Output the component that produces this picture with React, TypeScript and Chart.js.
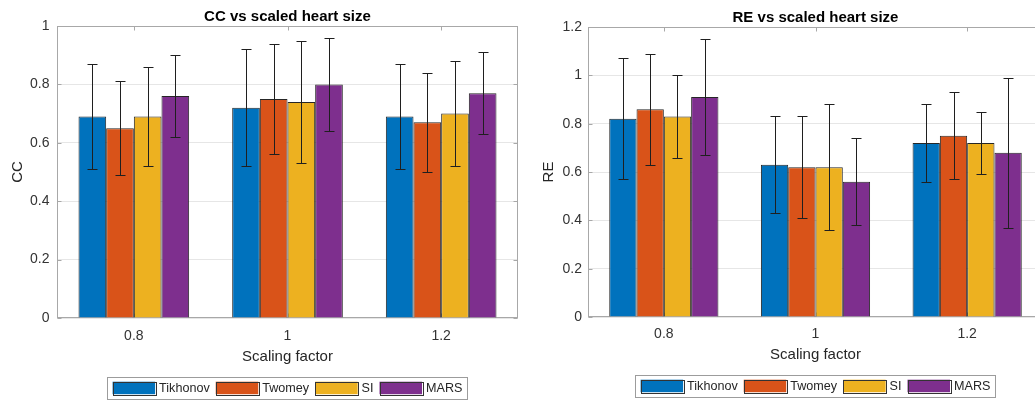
import React, { useEffect, useRef } from "react";
import { Chart, registerables } from "chart.js";

Chart.register(...registerables);

const FONT = "'Liberation Sans', Arial, Helvetica, sans-serif";

const categories = ["0.8", "1", "1.2"];
const methods = ["Tikhonov", "Twomey", "SI", "MARS"];
const methodColors = ["#0072BD", "#D95319", "#EDB120", "#7E2F8E"];

// CC panel: bar heights
const ccTikhonov = [0.69, 0.72, 0.69];
const ccTwomey = [0.65, 0.75, 0.67];
const ccSI = [0.69, 0.74, 0.7];
const ccMARS = [0.76, 0.8, 0.77];
// CC panel: error bar ends
const ccTikhonovLow = [0.51, 0.52, 0.51];
const ccTikhonovHigh = [0.87, 0.92, 0.87];
const ccTwomeyLow = [0.49, 0.56, 0.5];
const ccTwomeyHigh = [0.81, 0.94, 0.84];
const ccSILow = [0.52, 0.53, 0.52];
const ccSIHigh = [0.86, 0.95, 0.88];
const ccMARSLow = [0.62, 0.64, 0.63];
const ccMARSHigh = [0.9, 0.96, 0.91];
const ccTicks = [0, 0.2, 0.4, 0.6, 0.8, 1];

// RE panel: bar heights
const reTikhonov = [0.82, 0.63, 0.72];
const reTwomey = [0.86, 0.62, 0.75];
const reSI = [0.83, 0.62, 0.72];
const reMARS = [0.91, 0.56, 0.68];
// RE panel: error bar ends
const reTikhonovLow = [0.57, 0.43, 0.56];
const reTikhonovHigh = [1.07, 0.83, 0.88];
const reTwomeyLow = [0.63, 0.41, 0.57];
const reTwomeyHigh = [1.09, 0.83, 0.93];
const reSILow = [0.66, 0.36, 0.59];
const reSIHigh = [1.0, 0.88, 0.85];
const reMARSLow = [0.67, 0.38, 0.37];
const reMARSHigh = [1.15, 0.74, 0.99];
const reTicks = [0, 0.2, 0.4, 0.6, 0.8, 1, 1.2];

const ccMeans = [ccTikhonov, ccTwomey, ccSI, ccMARS];
const ccLows = [ccTikhonovLow, ccTwomeyLow, ccSILow, ccMARSLow];
const ccHighs = [ccTikhonovHigh, ccTwomeyHigh, ccSIHigh, ccMARSHigh];
const reMeans = [reTikhonov, reTwomey, reSI, reMARS];
const reLows = [reTikhonovLow, reTwomeyLow, reSILow, reMARSLow];
const reHighs = [reTikhonovHigh, reTwomeyHigh, reSIHigh, reMARSHigh];

function line(ctx: CanvasRenderingContext2D, x1: number, y1: number, x2: number, y2: number) {
  ctx.beginPath();
  ctx.moveTo(x1, y1);
  ctx.lineTo(x2, y2);
  ctx.stroke();
}

const matlabPlugin = {
  id: "matlab",
  beforeDatasetsDraw(chart: any) {
    const { ctx, chartArea: a, scales } = chart;
    ctx.save();
    ctx.strokeStyle = "#a8a8a8";
    ctx.lineWidth = 1;
    const l = Math.round(a.left) + 0.5;
    const r = Math.round(a.right) - 0.5;
    const t = Math.round(a.top) + 0.5;
    const b = Math.round(a.bottom) - 0.5;
    ctx.strokeRect(l, t, r - l, b - t);
    const y = scales.y;
    y.ticks.forEach((tk: any) => {
      const py = Math.round(y.getPixelForValue(tk.value)) + 0.5;
      line(ctx, l, py, l + 4, py);
      line(ctx, r - 4, py, r, py);
    });
    const x = scales.x;
    x.ticks.forEach((_tk: any, i: number) => {
      const px = Math.round(x.getPixelForTick(i)) + 0.5;
      line(ctx, px, t, px, t + 4);
      line(ctx, px, b - 4, px, b);
    });
    ctx.restore();
  },
  afterDatasetsDraw(chart: any) {
    const { ctx, scales } = chart;
    const y = scales.y;
    ctx.save();
    ctx.strokeStyle = "#1f1f1f";
    ctx.lineWidth = 1;
    chart.data.datasets.forEach((ds: any, i: number) => {
      const meta = chart.getDatasetMeta(i);
      meta.data.forEach((bar: any, j: number) => {
        const px = Math.round(bar.x) + 0.5;
        const yl = Math.round(y.getPixelForValue(ds.errLow[j])) + 0.5;
        const yh = Math.round(y.getPixelForValue(ds.errHigh[j])) + 0.5;
        line(ctx, px, yl, px, yh);
        line(ctx, px - 5, yh, px + 5, yh);
        line(ctx, px - 5, yl, px + 5, yl);
      });
    });
    ctx.restore();
  },
  afterDraw(chart: any) {
    const { ctx, chartArea: a } = chart;
    const opts = chart.options.plugins.matlab;
    ctx.save();
    ctx.font = `12.6px ${FONT}`;
    const swW = 42.5;
    const swH = 12.5;
    const gapText = 4;
    const gapItem = 6;
    const padX = 5.3;
    const boxH = 22;
    const items = chart.data.datasets.map((d: any) => ({
      label: d.label,
      color: d.backgroundColor,
      w: ctx.measureText(d.label).width,
    }));
    let total = padX * 2 + gapItem * (items.length - 1);
    items.forEach((it: any) => (total += swW + gapText + it.w));
    const left = (a.left + a.right) / 2 - total / 2;
    const top = opts.legendTop;
    ctx.strokeStyle = "#9c9c9c";
    ctx.lineWidth = 1;
    ctx.strokeRect(Math.round(left) + 0.5, Math.round(top) + 0.5, Math.round(total), boxH);
    let x = left + padX;
    items.forEach((it: any) => {
      ctx.fillStyle = it.color;
      ctx.fillRect(x, top + 4.7, swW, swH);
      ctx.strokeStyle = "#333333";
      ctx.strokeRect(Math.round(x) + 0.5, Math.round(top + 4.7) + 0.5, Math.round(swW), Math.round(swH));
      ctx.fillStyle = "#262626";
      ctx.textBaseline = "middle";
      ctx.textAlign = "left";
      ctx.fillText(it.label, x + swW + gapText, top + boxH / 2 + 1);
      x += swW + gapText + it.w + gapItem;
    });
    ctx.restore();
  },
};

type PanelProps = {
  title: string;
  yLabel: string;
  yTicks: number[];
  means: number[][];
  lows: number[][];
  highs: number[][];
  width: number;
  yWidth: number;
  yTitlePad: number;
  yTickPad: number;
  padRight: number;
  titlePadTop: number;
  titlePadBottom: number;
  xHeight: number;
  xTickPad: number;
  padBottom: number;
  legendTop: number;
};

function Panel(p: PanelProps) {
  const ref = useRef<HTMLCanvasElement | null>(null);
  useEffect(() => {
    if (!ref.current) return;
    const chart = new Chart(ref.current, {
      type: "bar",
      data: {
        labels: categories,
        datasets: methods.map((m, i) => ({
          label: m,
          data: p.means[i],
          errLow: p.lows[i],
          errHigh: p.highs[i],
          backgroundColor: methodColors[i],
          borderColor: "#262626",
          borderWidth: 1,
          categoryPercentage: 0.72,
          barPercentage: 1,
        })) as any,
      },
      options: {
        responsive: false,
        animation: false,
        layout: { padding: { left: 0, right: p.padRight, top: 0, bottom: p.padBottom } },
        plugins: {
          legend: { display: false },
          tooltip: { enabled: false },
          title: {
            display: true,
            text: p.title,
            fullSize: false,
            color: "#000000",
            font: { family: FONT, size: 15, weight: "bold" },
            padding: { top: p.titlePadTop, bottom: p.titlePadBottom },
          },
          matlab: { legendTop: p.legendTop },
        } as any,
        scales: {
          x: {
            grid: { display: false, drawTicks: false },
            border: { display: false },
            ticks: { color: "#333333", font: { family: FONT, size: 14 }, padding: p.xTickPad, maxRotation: 0 },
            title: {
              display: true,
              text: "Scaling factor",
              color: "#262626",
              font: { family: FONT, size: 15 },
              padding: { top: 0, bottom: 0 },
            },
            afterFit: (s: any) => {
              s.height = p.xHeight;
            },
          },
          y: {
            min: 0,
            max: p.yTicks[p.yTicks.length - 1],
            afterBuildTicks: (s: any) => {
              s.ticks = p.yTicks.map((v) => ({ value: v }));
            },
            grid: { color: "#e6e6e6", drawTicks: false },
            border: { display: false },
            ticks: {
              color: "#333333",
              font: { family: FONT, size: 14 },
              padding: p.yTickPad,
              callback: (v: any) => Number(v).toFixed(1).replace(/\.0$/, ""),
            },
            title: {
              display: true,
              text: p.yLabel,
              color: "#262626",
              font: { family: FONT, size: 15 },
              padding: { top: p.yTitlePad, bottom: 0 },
            },
            afterFit: (s: any) => {
              s.width = p.yWidth;
            },
          },
        },
      } as any,
      plugins: [matlabPlugin],
    });
    return () => chart.destroy();
  }, []);
  return <canvas ref={ref} width={p.width} height={403} style={{ display: "block" }} />;
}

export default function App() {
  return (
    <div
      style={{
        position: "fixed",
        left: 0,
        top: 0,
        width: 1035,
        height: 403,
        overflow: "hidden",
        background: "#ffffff",
      }}
    >
      <div style={{ position: "absolute", left: 0, top: 0 }}>
        <Panel
          title="CC vs scaled heart size"
          yLabel="CC"
          yTicks={ccTicks}
          means={ccMeans}
          lows={ccLows}
          highs={ccHighs}
          width={520}
          yWidth={57}
          yTitlePad={9}
          yTickPad={7.5}
          padRight={2}
          titlePadTop={8}
          titlePadBottom={0}
          xHeight={48}
          xTickPad={10}
          padBottom={37}
          legendTop={377}
        />
      </div>
      <div style={{ position: "absolute", left: 520, top: 0 }}>
        <Panel
          title="RE vs scaled heart size"
          yLabel="RE"
          yTicks={reTicks}
          means={reMeans}
          lows={reLows}
          highs={reHighs}
          width={530}
          yWidth={68}
          yTitlePad={19.7}
          yTickPad={6}
          padRight={7}
          titlePadTop={8.5}
          titlePadBottom={0.5}
          xHeight={47}
          xTickPad={8.8}
          padBottom={39}
          legendTop={375}
        />
      </div>
    </div>
  );
}
